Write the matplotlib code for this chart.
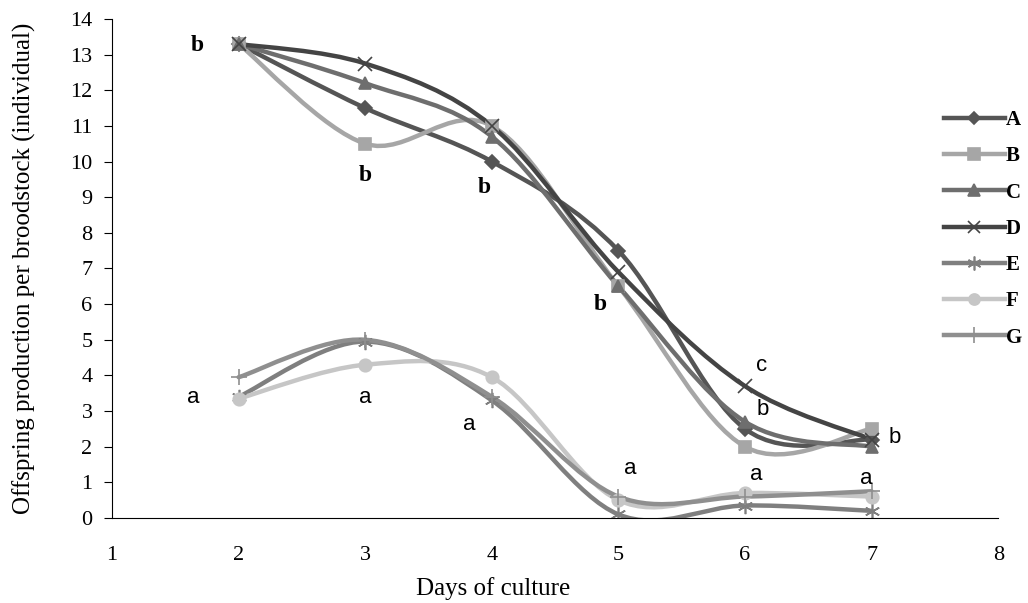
import matplotlib
matplotlib.use("Agg")
import matplotlib.pyplot as plt
from matplotlib.path import Path
from matplotlib.patches import PathPatch
from matplotlib.lines import Line2D

days = [2, 3, 4, 5, 6, 7]
names = ["A", "B", "C", "D", "E", "F", "G"]

a_vals = [13.3, 11.5, 10.0, 7.5, 2.5, 2.2]
b_vals = [13.3, 10.5, 11.0, 6.5, 2.0, 2.5]
c_vals = [13.3, 12.2, 10.7, 6.5, 2.7, 2.0]
d_vals = [13.3, 12.75, 11.0, 6.9, 3.7, 2.2]
e_vals = [3.4, 4.95, 3.3, 0.1, 0.35, 0.2]
f_vals = [3.35, 4.3, 3.95, 0.5, 0.7, 0.6]
g_vals = [3.95, 5.0, 3.4, 0.6, 0.6, 0.75]

series = [a_vals, b_vals, c_vals, d_vals, e_vals, f_vals, g_vals]
colors = ["#555555", "#a6a6a6", "#6e6e6e", "#444444", "#7f7f7f", "#c6c6c6", "#8f8f8f"]
markers = ["D", "s", "^", "x", (6, 2, 0), "o", "+"]
msizes = [7, 9, 9, 10, 11, 9, 12]

# significance letters: (text, x, y, bold)
letters = [
    ("b", 1.67, 13.27, True), ("b", 3.0, 9.62, True), ("b", 3.94, 9.26, True),
    ("b", 4.86, 5.98, True), ("c", 6.13, 4.29, False), ("b", 6.14, 3.03, False),
    ("b", 7.18, 2.27, False), ("a", 1.64, 3.39, False), ("a", 3.0, 3.37, False),
    ("a", 3.82, 2.61, False), ("a", 5.09, 1.40, False), ("a", 6.09, 1.21, False),
    ("a", 6.96, 1.12, False),
]


def smooth_path(xs, ys):
    # Catmull-Rom through the points, written as cubic Bezier segments
    pts = list(zip(xs, ys))
    verts = [pts[0]]
    codes = [Path.MOVETO]
    n = len(pts)
    for i in range(n - 1):
        p0 = pts[i - 1] if i > 0 else pts[i]
        p1 = pts[i]
        p2 = pts[i + 1]
        p3 = pts[i + 2] if i + 2 < n else pts[i + 1]
        c1 = (p1[0] + (p2[0] - p0[0]) / 6, p1[1] + (p2[1] - p0[1]) / 6)
        c2 = (p2[0] - (p3[0] - p1[0]) / 6, p2[1] - (p3[1] - p1[1]) / 6)
        verts += [c1, c2, p2]
        codes += [Path.CURVE4] * 3
    return Path(verts, codes)


fig = plt.figure(figsize=(10.28, 6.03), dpi=100)
ax = fig.add_axes([0.109, 0.141, 0.862, 0.8275])

handles = []
for vals, col, mk, ms, name in zip(series, colors, markers, msizes, names):
    ax.add_patch(PathPatch(smooth_path(days, vals), fill=False, edgecolor=col,
                           lw=3.2, capstyle="round", joinstyle="round"))
    ax.plot(days, vals, linestyle="none", marker=mk, ms=ms, color=col,
            mec=col, mew=1.2)
    handles.append(Line2D([], [], color=col, lw=3.2, marker=mk, ms=ms - 1,
                          mec=col, mew=1.2, label=name))

for txt, x, y, bold in letters:
    if bold:
        ax.text(x, y, txt, fontsize=17, fontweight="bold", family="Liberation Serif",
                ha="center", va="center")
    else:
        ax.text(x, y, txt, fontsize=16, family="Liberation Sans",
                ha="center", va="center")

ax.set_xlim(1, 8)
ax.set_ylim(0, 14)
ax.set_xticks(range(1, 9))
ax.set_yticks(range(0, 15))
ax.spines["top"].set_visible(False)
ax.spines["right"].set_visible(False)
ax.tick_params(axis="x", length=0, pad=20, labelsize=16)
ax.tick_params(axis="y", direction="out", length=6, pad=8, labelsize=16)
for lab in ax.get_xticklabels() + ax.get_yticklabels():
    lab.set_family("Liberation Serif")

ax.set_ylabel("Offspring production per broodstock (individual)",
              family="Liberation Serif", fontsize=18)
ax.yaxis.set_label_coords(-0.086, 0.5)
ax.set_xlabel("Days of culture", family="Liberation Serif", fontsize=18)
ax.xaxis.set_label_coords(0.43, -0.118)

ax.legend(handles=handles, loc="upper left", bbox_to_anchor=(0.918, 0.855),
          frameon=False, handlelength=2.9, handletextpad=0.05, labelspacing=0.78,
          prop={"family": "Liberation Serif", "size": 15, "weight": "bold"})

fig.savefig("out.png", dpi=100)
